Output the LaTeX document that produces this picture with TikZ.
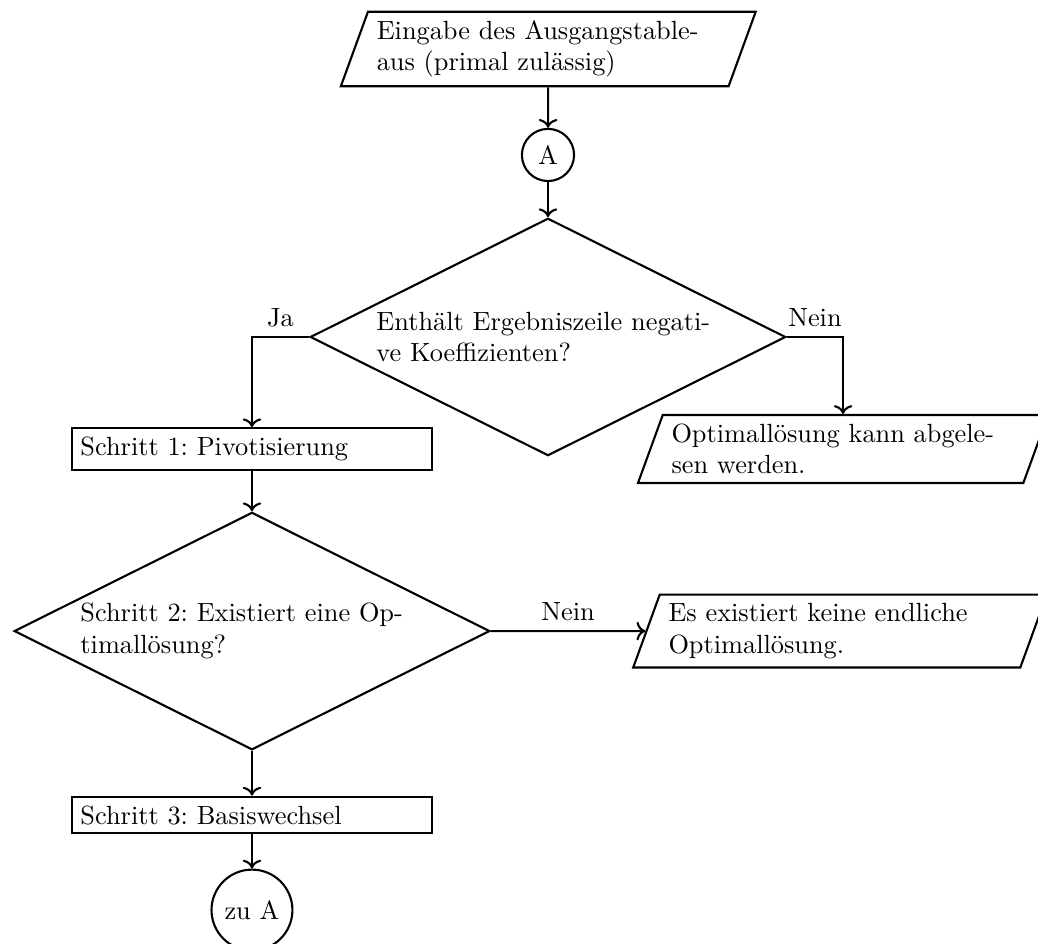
\documentclass[tikz,border=0pt]{standalone}
\usepackage{tikz}
\usetikzlibrary{shapes.geometric, arrows.meta, positioning}
\frenchspacing

\tikzset{
  eingabe/.style={trapezium, trapezium left angle=70, trapezium right angle=110, draw, thick, text width=4.58cm},
  frage/.style={diamond, draw, thick, aspect=2, text width=4.58cm, inner sep=0pt, minimum width=6.35cm, minimum height=3.17cm},
  schritt/.style={rectangle, draw, thick, text width=4.58cm},
  marke/.style={circle, draw, thick},
  pfeil/.style={->, thick}
}

\begin{document}
\begin{tikzpicture}
  \useasboundingbox (0,0) rectangle (13.858,-12.603);

  % Knoten
  \node[eingabe] (start) at (7.32, -0.654) {Eingabe des Ausgangstable-\\aus (primal zulässig)};
  \node[marke] (A) at (7.316, -2.069) {A};
  \node[frage] (neg) at (7.316, -4.499) {Enthält Ergebniszeile negati-\\ve Koeffizienten?};
  \node[schritt] (pivot) at (3.364, -5.995) {Schritt 1: Pivotisierung};
  \node[eingabe] (optimal) at (11.255, -5.995) {Optimallösung kann abgele-\\sen werden.};
  \node[frage] (exist) at (3.364, -8.425) {Schritt 2: Existiert eine Op-\\timallösung?};
  \node[eingabe] (keine) at (11.215, -8.425) {Es existiert keine endliche\\Optimallösung.};
  \node[schritt] (wechsel) at (3.364, -10.881) {Schritt 3: Basiswechsel};
  \node[marke] (zuA) at (3.364, -12.15) {zu A};

  % Verbindungen
  \draw[pfeil] (start) -- (A);
  \draw[pfeil] (A) -- (neg);
  \draw[pfeil] (neg.west) -| node[pos=0.25, above] {Ja} (pivot.north);
  \draw[pfeil] (neg.east) -| node[pos=0.25, above] {Nein} (optimal.north);
  \draw[pfeil] (pivot) -- (exist);
  \draw[pfeil] (exist.east) -- node[above] {Nein} (keine);
  \draw[pfeil] (exist) -- (wechsel);
  \draw[pfeil] (wechsel) -- (zuA);
\end{tikzpicture}
\end{document}
